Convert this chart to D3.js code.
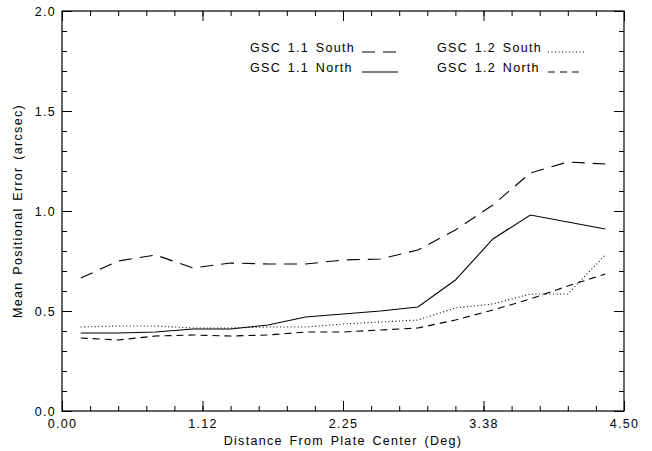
<!DOCTYPE html>
<html>
<head>
<meta charset="utf-8">
<script src="https://cdn.jsdelivr.net/npm/d3@7"></script>
<style>
  body { margin: 0; background: #fff; }
  text { font-family: "Liberation Sans", Arial, sans-serif; font-size: 12.5px; letter-spacing: 1.3px; word-spacing: 2px; fill: #000; }
</style>
</head>
<body>
<svg width="652" height="451"></svg>
<script>
// Data
var distance = [0.15, 0.45, 0.75, 1.05, 1.35, 1.65, 1.95, 2.25, 2.55, 2.85, 3.15, 3.45, 3.75, 4.05, 4.35];
var south11 = [0.665, 0.75, 0.78, 0.715, 0.74, 0.735, 0.735, 0.755, 0.76, 0.805, 0.905, 1.03, 1.19, 1.245, 1.235];
var north11 = [0.39, 0.39, 0.395, 0.41, 0.41, 0.43, 0.47, 0.485, 0.50, 0.52, 0.655, 0.86, 0.98, 0.945, 0.91];
var south12 = [0.42, 0.425, 0.425, 0.415, 0.415, 0.42, 0.42, 0.435, 0.445, 0.455, 0.515, 0.535, 0.585, 0.585, 0.78];
var north12 = [0.365, 0.355, 0.375, 0.38, 0.375, 0.38, 0.395, 0.395, 0.405, 0.415, 0.455, 0.505, 0.56, 0.625, 0.685];

var xTicks = [0, 1.125, 2.25, 3.375, 4.5];
var xTickLabels = ["0.00", "1.12", "2.25", "3.38", "4.50"];
var yTicks = [0, 0.5, 1.0, 1.5, 2.0];

var series = [
  { name: "GSC 1.1 South", values: south11, dash: "13,8" },
  { name: "GSC 1.1 North", values: north11, dash: null },
  { name: "GSC 1.2 South", values: south12, dash: "1,2.5" },
  { name: "GSC 1.2 North", values: north12, dash: "7,5" }
];

var svg = d3.select("svg");
var margin = { left: 62, right: 28, top: 11, bottom: 40 };
var width = 652 - margin.left - margin.right,
    height = 451 - margin.top - margin.bottom;

var g = svg.append("g").attr("transform", "translate(" + margin.left + "," + margin.top + ")");

var x = d3.scaleLinear().domain([0, 4.5]).range([0, width]);
var y = d3.scaleLinear().domain([0, 2.0]).range([height, 0]);

// minor ticks every fifth of a major interval
var xMinor = d3.range(0, 26).map(function(i) { return i * 0.225; });
var yMinor = d3.range(0, 21).map(function(i) { return i * 0.1; });

function styleAxis(sel) {
  sel.select(".domain").remove();
  sel.selectAll("line").attr("stroke", "#000").attr("stroke-width", 1);
}

// minor ticks on all four sides
g.append("g").attr("transform", "translate(0," + height + ")")
  .call(d3.axisBottom(x).tickValues(xMinor).tickSize(-5).tickFormat(""))
  .call(styleAxis);
g.append("g")
  .call(d3.axisTop(x).tickValues(xMinor).tickSize(-5).tickFormat(""))
  .call(styleAxis);
g.append("g")
  .call(d3.axisLeft(y).tickValues(yMinor).tickSize(-5).tickFormat(""))
  .call(styleAxis);
g.append("g").attr("transform", "translate(" + width + ",0)")
  .call(d3.axisRight(y).tickValues(yMinor).tickSize(-5).tickFormat(""))
  .call(styleAxis);

// major ticks
var xAxis = g.append("g").attr("transform", "translate(0," + height + ")")
  .call(d3.axisBottom(x).tickValues(xTicks).tickSize(-10).tickPadding(8)
    .tickFormat(function(d, i) { return xTickLabels[i]; }))
  .call(styleAxis);
xAxis.selectAll("text").attr("font-size", null).attr("font-family", null);

g.append("g")
  .call(d3.axisTop(x).tickValues(xTicks).tickSize(-10).tickFormat(""))
  .call(styleAxis);

var yAxis = g.append("g")
  .call(d3.axisLeft(y).tickValues(yTicks).tickSize(-10).tickPadding(6).tickFormat(d3.format(".1f")))
  .call(styleAxis);
yAxis.selectAll("text").attr("font-size", null).attr("font-family", null);

g.append("g").attr("transform", "translate(" + width + ",0)")
  .call(d3.axisRight(y).tickValues(yTicks).tickSize(-10).tickFormat(""))
  .call(styleAxis);

// frame
g.append("rect")
  .attr("width", width).attr("height", height)
  .attr("fill", "none").attr("stroke", "#000").attr("stroke-width", 1.2);

// axis titles
svg.append("text")
  .attr("x", margin.left + width / 2).attr("y", 445)
  .attr("text-anchor", "middle")
  .text("Distance From Plate Center (Deg)");

svg.append("text")
  .attr("transform", "translate(22," + (margin.top + height / 2) + ") rotate(-90)")
  .attr("text-anchor", "middle")
  .text("Mean Positional Error (arcsec)");

// lines
var line = d3.line()
  .x(function(d, i) { return x(distance[i]); })
  .y(function(d) { return y(d); });

g.selectAll(".series")
  .data(series)
  .enter().append("path")
  .attr("class", "series")
  .attr("d", function(d) { return line(d.values); })
  .attr("fill", "none")
  .attr("stroke", "#000")
  .attr("stroke-width", 1.1)
  .attr("stroke-dasharray", function(d) { return d.dash; });

// legend
var legendPos = [[250, 52, 362], [250, 72, 362], [437, 52, 548], [437, 72, 548]];
var legend = svg.append("g");
series.forEach(function(s, i) {
  var p = legendPos[i];
  legend.append("text").attr("x", p[0]).attr("y", p[1]).text(s.name);
  legend.append("line")
    .attr("x1", p[2]).attr("x2", p[2] + 36)
    .attr("y1", p[1]).attr("y2", p[1])
    .attr("stroke", "#000").attr("stroke-width", 1.1)
    .attr("stroke-dasharray", s.dash);
});
</script>
</body>
</html>
